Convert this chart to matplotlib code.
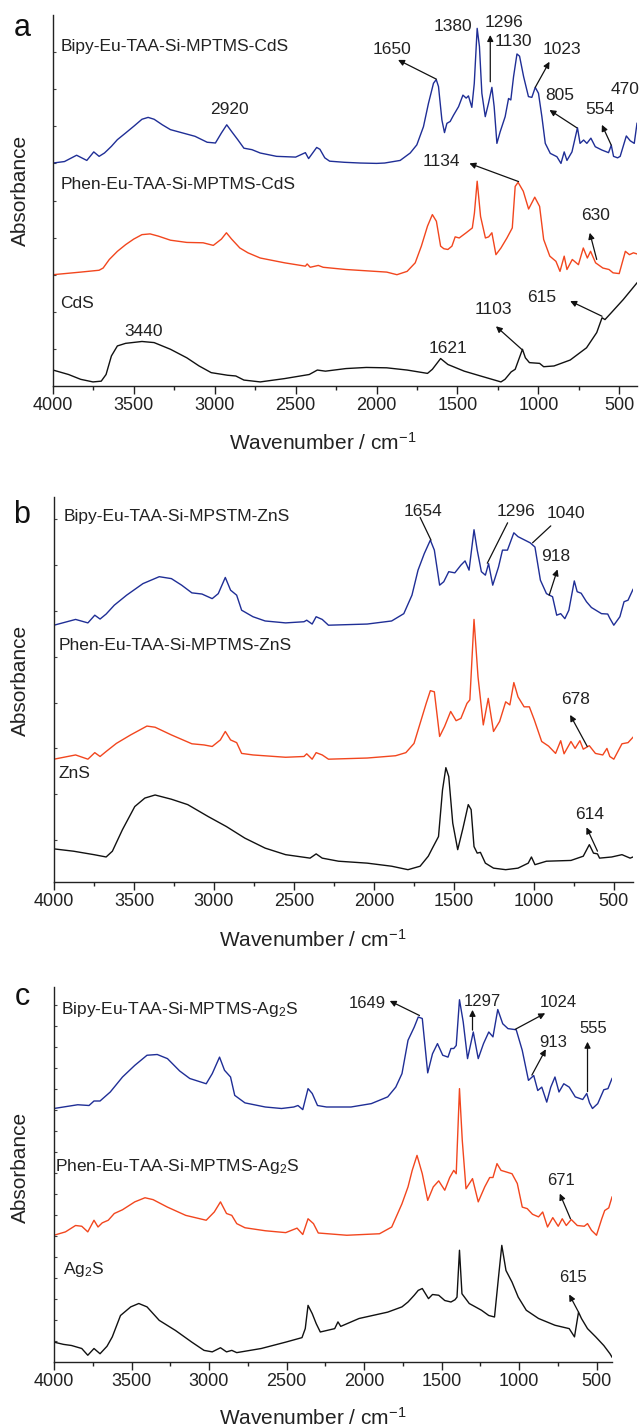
import matplotlib
matplotlib.use('Agg')
import matplotlib.pyplot as plt
import numpy as np

plt.rcParams['font.family'] = ['Liberation Sans', 'DejaVu Sans']
plt.rcParams['mathtext.default'] = 'regular'

# ---------------- data (wavenumber, absorbance in panel units) ----------------
cds_bipy = [(4000, 60.1), (3929, 60.5), (3854, 62.2), (3791, 60.8), (3748, 63.1), (3715, 61.9), (3682, 62.8),
            (3665, 63.5), (3639, 64.6), (3602, 66.4), (3551, 68.2), (3501, 70.0), (3450, 71.9), (3412, 72.4),
            (3375, 71.9), (3324, 70.4), (3274, 69.1), (3198, 68.2), (3122, 67.3), (3047, 65.7), (2996, 65.5),
            (2959, 68.2), (2926, 70.4), (2896, 68.6), (2858, 66.4), (2820, 64.1), (2770, 63.7), (2719, 62.8),
            (2618, 61.9), (2500, 61.7), (2440, 62.9), (2420, 61.3), (2370, 64.3), (2350, 63.8), (2320, 61.5),
            (2290, 60.6), (2200, 60.3), (2100, 60.1), (2000, 60.0), (1950, 60.1), (1854, 60.8), (1792, 62.8),
            (1751, 65.0), (1710, 69.9), (1679, 76.2), (1648, 81.6), (1631, 82.6), (1617, 80.7), (1596, 71.7),
            (1580, 68.3), (1565, 70.8), (1545, 71.3), (1524, 73.0), (1493, 75.3), (1466, 78.4), (1446, 77.6),
            (1432, 78.2), (1411, 75.1), (1396, 81.5), (1378, 96.4), (1364, 91.5), (1349, 78.9), (1328, 72.6),
            (1308, 76.2), (1287, 80.5), (1273, 75.3), (1256, 65.4), (1236, 68.5), (1205, 72.6), (1184, 77.5),
            (1170, 77.1), (1153, 83.4), (1132, 89.5), (1116, 88.9), (1091, 83.4), (1061, 78.0), (1040, 77.8),
            (1019, 80.5), (999, 78.9), (978, 72.6), (957, 65.4), (926, 62.7), (885, 61.8), (860, 60.0),
            (840, 63.1), (823, 60.8), (792, 63.1), (758, 69.6), (742, 65.4), (720, 66.3), (700, 65.4),
            (675, 66.8), (648, 64.5), (607, 63.6), (566, 62.9), (549, 64.9), (535, 61.9), (510, 61.5),
            (494, 61.9), (456, 67.4), (432, 66.1), (407, 65.4), (390, 70.8)]

cds_phen = [(4000, 30.0), (3829, 30.7), (3715, 31.2), (3690, 31.8), (3652, 34.1), (3602, 36.3), (3551, 38.1),
            (3501, 39.6), (3450, 40.8), (3400, 41.0), (3349, 40.4), (3274, 39.3), (3173, 38.7), (3072, 38.6),
            (3009, 37.9), (2959, 39.6), (2928, 41.3), (2896, 39.6), (2845, 37.2), (2795, 35.9), (2719, 34.5),
            (2568, 33.2), (2440, 32.3), (2429, 32.9), (2410, 32.0), (2360, 32.5), (2330, 32.0), (2189, 31.4),
            (1937, 30.7), (1874, 30.0), (1811, 30.9), (1761, 33.2), (1723, 37.7), (1685, 43.1), (1655, 46.2),
            (1630, 44.4), (1604, 37.7), (1584, 37.0), (1559, 36.8), (1534, 37.7), (1514, 40.2), (1489, 39.9),
            (1446, 41.3), (1408, 42.6), (1395, 46.6), (1378, 55.2), (1357, 45.7), (1327, 39.9), (1307, 40.2),
            (1287, 41.3), (1262, 35.4), (1231, 37.2), (1194, 39.9), (1161, 42.6), (1143, 53.8), (1125, 54.9),
            (1093, 52.5), (1060, 47.7), (1022, 50.9), (992, 48.4), (967, 39.5), (929, 35.0), (891, 33.6),
            (866, 30.9), (840, 35.0), (823, 31.4), (790, 34.1), (752, 32.7), (722, 37.2), (697, 34.5),
            (677, 36.3), (646, 33.2), (601, 31.8), (563, 31.4), (538, 30.5), (500, 30.3), (462, 36.3),
            (437, 35.4), (412, 35.9), (390, 35.6)]

cds_bare = [(4000, 4.3), (3904, 3.1), (3829, 1.8), (3753, 1.1), (3702, 1.3), (3672, 3.1), (3639, 8.1),
            (3602, 10.8), (3551, 11.5), (3450, 12.0), (3375, 11.7), (3274, 9.9), (3173, 7.6), (3097, 5.4),
            (3022, 3.6), (2921, 2.9), (2870, 2.7), (2820, 1.6), (2719, 1.1), (2568, 2.0), (2416, 3.1),
            (2366, 4.3), (2316, 4.0), (2189, 4.7), (2063, 5.0), (1937, 4.9), (1811, 4.3), (1685, 3.4),
            (1655, 4.5), (1604, 7.4), (1559, 5.8), (1458, 4.0), (1357, 2.7), (1231, 1.1), (1206, 1.8),
            (1168, 3.8), (1143, 4.5), (1098, 9.9), (1080, 7.6), (1055, 6.3), (992, 6.1), (967, 5.2),
            (903, 5.4), (803, 7.0), (702, 10.3), (639, 14.4), (606, 18.4), (588, 17.9), (550, 19.7),
            (475, 23.3), (390, 27.8)]

zns_bipy = [(4000, 66.7), (3865, 68.2), (3788, 67.3), (3745, 69.3), (3712, 68.3), (3674, 69.6), (3623, 71.9),
            (3546, 74.5), (3444, 77.5), (3342, 79.3), (3266, 78.8), (3202, 77.1), (3138, 75.1), (3075, 74.8),
            (3011, 73.6), (2973, 74.9), (2929, 79.1), (2896, 75.8), (2858, 74.5), (2827, 70.6), (2756, 68.9),
            (2680, 67.8), (2552, 67.3), (2437, 67.6), (2420, 68.0), (2386, 67.0), (2361, 68.9), (2323, 68.2),
            (2284, 66.7), (2042, 67.0), (1889, 67.8), (1813, 69.7), (1762, 74.5), (1724, 81.0), (1685, 85.3),
            (1647, 88.8), (1622, 86.2), (1589, 77.1), (1563, 78.0), (1532, 80.6), (1494, 80.3), (1456, 82.3),
            (1430, 83.4), (1405, 81.0), (1374, 91.5), (1354, 86.2), (1328, 80.6), (1303, 79.7), (1283, 82.7),
            (1257, 77.1), (1221, 81.8), (1196, 86.2), (1165, 86.2), (1125, 90.7), (1099, 89.7), (1061, 88.9),
            (1023, 88.1), (993, 87.0), (959, 78.4), (921, 74.9), (883, 74.1), (857, 69.3), (832, 69.7),
            (806, 68.4), (781, 70.6), (747, 78.2), (729, 75.4), (704, 75.0), (671, 72.8), (640, 71.3),
            (577, 69.7), (538, 69.6), (525, 68.5), (500, 66.7), (462, 68.9), (436, 72.8), (411, 73.2),
            (380, 76.0)]

zns_phen = [(4000, 31.9), (3865, 33.0), (3788, 31.9), (3745, 33.6), (3712, 32.6), (3674, 33.9), (3610, 36.0),
            (3521, 38.2), (3419, 40.5), (3368, 40.2), (3266, 38.2), (3138, 35.9), (3062, 35.6), (3011, 35.2),
            (2960, 36.9), (2929, 39.1), (2896, 36.9), (2858, 36.2), (2827, 33.4), (2756, 33.0), (2552, 32.4),
            (2437, 32.6), (2420, 33.3), (2386, 31.9), (2361, 33.6), (2323, 33.0), (2284, 31.9), (2042, 32.2),
            (1864, 32.8), (1800, 33.6), (1749, 36.0), (1711, 41.2), (1673, 46.4), (1647, 49.7), (1622, 49.4),
            (1589, 37.8), (1558, 40.4), (1520, 44.3), (1486, 41.9), (1456, 42.5), (1418, 46.4), (1400, 47.3),
            (1374, 68.2), (1349, 53.3), (1316, 40.8), (1285, 47.7), (1252, 39.1), (1214, 41.7), (1176, 46.8),
            (1150, 46.0), (1125, 51.8), (1099, 48.1), (1061, 45.5), (1028, 45.5), (997, 42.1), (951, 36.5),
            (908, 35.3), (864, 33.4), (832, 36.7), (811, 33.3), (768, 36.5), (742, 34.7), (712, 36.7),
            (691, 34.5), (653, 35.4), (615, 33.4), (569, 33.0), (543, 34.7), (525, 32.6), (500, 31.9),
            (449, 35.9), (411, 36.2), (380, 37.6)]

zns_bare = [(4000, 8.6), (3878, 8.0), (3750, 7.1), (3674, 6.5), (3635, 8.0), (3572, 13.6), (3495, 19.6),
            (3432, 21.8), (3368, 22.6), (3266, 21.5), (3164, 20.1), (3036, 17.0), (2922, 14.4), (2807, 11.4),
            (2680, 8.8), (2552, 7.1), (2399, 6.2), (2361, 7.3), (2323, 6.2), (2221, 5.4), (2042, 4.9),
            (1889, 4.1), (1787, 3.2), (1711, 4.1), (1660, 6.7), (1634, 8.8), (1596, 11.8), (1571, 23.9),
            (1550, 29.7), (1532, 27.4), (1507, 15.3), (1476, 8.4), (1443, 14.0), (1410, 20.1), (1392, 18.8),
            (1374, 9.2), (1354, 7.5), (1334, 7.7), (1303, 4.9), (1252, 3.6), (1176, 3.2), (1099, 3.6),
            (1035, 4.9), (1015, 6.5), (993, 4.5), (921, 5.4), (768, 5.6), (691, 6.7), (653, 9.7), (627, 7.5),
            (602, 7.3), (589, 6.2), (513, 6.5), (449, 7.1), (398, 6.2), (380, 6.5)]

ag2s_bipy = [(4000, 67.6), (3847, 68.6), (3774, 68.4), (3742, 69.6), (3703, 69.6), (3637, 72.0), (3558, 76.0),
             (3479, 79.1), (3400, 81.8), (3334, 82.0), (3268, 80.9), (3189, 77.6), (3124, 75.6), (3018, 74.2),
             (2979, 76.9), (2932, 81.3), (2900, 77.8), (2861, 76.0), (2834, 71.1), (2768, 69.1), (2637, 68.0),
             (2532, 67.6), (2453, 68.0), (2426, 68.4), (2395, 67.3), (2361, 72.9), (2334, 71.6), (2300, 68.4),
             (2242, 68.0), (2084, 68.0), (1953, 68.9), (1847, 70.7), (1795, 73.3), (1755, 76.9), (1716, 85.8),
             (1676, 89.3), (1650, 92.0), (1624, 91.6), (1589, 77.1), (1558, 82.2), (1526, 84.9), (1492, 81.8),
             (1458, 81.3), (1439, 83.6), (1421, 83.6), (1405, 84.4), (1384, 96.6), (1360, 90.7), (1332, 80.9),
             (1295, 88.0), (1263, 80.9), (1229, 84.9), (1195, 88.0), (1168, 86.7), (1137, 94.0), (1105, 90.2),
             (1071, 88.9), (1018, 88.6), (979, 83.1), (939, 75.1), (905, 76.4), (879, 72.4), (853, 73.3),
             (821, 69.3), (795, 73.3), (768, 76.0), (742, 72.0), (711, 74.2), (676, 73.3), (637, 70.7),
             (589, 70.0), (563, 71.6), (545, 69.1), (526, 67.6), (492, 68.9), (453, 72.6), (426, 72.9),
             (400, 75.6)]

ag2s_phen = [(4000, 33.8), (3926, 34.7), (3861, 36.4), (3821, 36.2), (3782, 34.7), (3742, 37.8), (3716, 36.0),
             (3689, 37.1), (3650, 37.8), (3611, 39.6), (3558, 40.6), (3479, 42.7), (3413, 43.8), (3361, 43.3),
             (3268, 41.3), (3150, 39.1), (3018, 37.8), (2966, 40.0), (2926, 42.7), (2887, 39.6), (2853, 39.1),
             (2821, 36.9), (2768, 35.8), (2637, 35.0), (2505, 34.5), (2432, 35.7), (2395, 34.0), (2361, 38.2),
             (2326, 36.9), (2295, 34.4), (2111, 33.8), (1900, 34.2), (1821, 36.0), (1755, 42.2), (1716, 46.7),
             (1689, 51.1), (1658, 55.1), (1624, 50.2), (1589, 43.1), (1553, 46.7), (1518, 48.3), (1479, 45.8),
             (1447, 49.2), (1421, 51.1), (1405, 50.2), (1384, 72.9), (1366, 59.1), (1342, 46.2), (1300, 48.9),
             (1263, 42.7), (1221, 46.7), (1189, 49.2), (1168, 49.2), (1142, 52.9), (1116, 51.1), (1084, 50.7),
             (1045, 50.2), (1011, 47.6), (979, 41.3), (947, 40.9), (913, 39.4), (874, 38.7), (847, 40.0),
             (816, 36.0), (782, 38.5), (747, 36.2), (721, 38.2), (695, 36.4), (663, 38.0), (624, 36.4),
             (579, 36.2), (558, 36.9), (532, 35.1), (500, 33.8), (466, 38.2), (447, 40.4), (421, 41.1),
             (400, 44.0)]

ag2s_bare = [(4000, 5.3), (3939, 4.7), (3887, 4.4), (3821, 3.6), (3782, 1.8), (3742, 3.6), (3703, 2.2),
             (3658, 4.2), (3624, 6.7), (3571, 12.4), (3505, 14.7), (3453, 15.6), (3400, 14.7), (3321, 11.1),
             (3216, 8.4), (3111, 5.3), (3032, 3.1), (2979, 2.7), (2926, 3.8), (2887, 2.7), (2853, 3.1),
             (2821, 2.5), (2663, 3.6), (2505, 5.3), (2400, 6.5), (2379, 8.9), (2361, 15.1), (2334, 12.9),
             (2308, 10.2), (2282, 8.0), (2189, 8.9), (2168, 10.7), (2150, 9.5), (2032, 11.6), (1847, 13.3),
             (1755, 14.7), (1716, 16.0), (1676, 17.8), (1650, 19.1), (1624, 19.6), (1584, 16.9), (1558, 18.0),
             (1518, 17.8), (1479, 16.4), (1439, 16.0), (1413, 16.6), (1400, 17.3), (1384, 29.8), (1368, 18.2),
             (1321, 15.6), (1242, 13.8), (1195, 12.4), (1158, 12.0), (1132, 22.7), (1111, 31.1), (1084, 24.4),
             (1045, 21.3), (1005, 17.3), (953, 13.8), (874, 11.6), (768, 9.8), (676, 8.9), (642, 6.7),
             (616, 13.3), (597, 11.6), (558, 8.9), (505, 6.7), (453, 4.4), (413, 2.2), (400, 1.3)]

tick_values = [4000, 3500, 3000, 2500, 2000, 1500, 1000, 500]

series_names_a = ['Bipy-Eu-TAA-Si-MPTMS-CdS', 'Phen-Eu-TAA-Si-MPTMS-CdS', 'CdS']
series_names_b = ['Bipy-Eu-TAA-Si-MPSTM-ZnS', 'Phen-Eu-TAA-Si-MPTMS-ZnS', 'ZnS']
series_names_c = ['Bipy-Eu-TAA-Si-MPTMS-Ag$_2$S', 'Phen-Eu-TAA-Si-MPTMS-Ag$_2$S', 'Ag$_2$S']

# ---------------- styling / layout ----------------
BLUE = '#1f2e96'
RED = '#f2461e'
BLACK = '#111111'
W, H = 639, 1427

fig = plt.figure(figsize=(W / 100, H / 100), dpi=100)


def make_axes(l, r, t, b):
    return fig.add_axes([l / W, 1 - b / H, (r - l) / W, (b - t) / H])


def style(ax, xright, yticks):
    ax.set_xlim(4000, xright)
    ax.set_ylim(0, 100)
    for s in ['top', 'right']:
        ax.spines[s].set_visible(False)
    for s in ['left', 'bottom']:
        ax.spines[s].set_linewidth(1.0)
        ax.spines[s].set_color('#222222')
    ax.set_xticks(tick_values)
    ax.set_xticklabels([str(v) for v in tick_values])
    ax.set_xticks([3750, 3250, 2750, 2250, 1750, 1250, 750], minor=True)
    ax.tick_params(axis='x', which='major', direction='out', length=6, width=1.0,
                   labelsize=13, pad=2, colors='#222222', labelcolor='#222222')
    ax.tick_params(axis='x', which='minor', direction='out', length=3, width=1.0, colors='#222222')
    ax.set_yticks(yticks)
    ax.tick_params(axis='y', which='major', direction='in', length=2.5, width=0.8,
                   labelleft=False, colors='#444444')


def plot_curve(ax, pts, color):
    x = [p[0] for p in pts]
    y = [p[1] for p in pts]
    ax.plot(x, y, color=color, lw=1.0)


def annotate(ax, items, fs):
    for txt, txy, tail, head, kind in items:
        ax.text(txy[0], txy[1], txt, ha='center', va='center', fontsize=fs, color='#222222')
        if kind == 'arrow':
            ax.annotate('', xy=head, xytext=tail,
                        arrowprops=dict(arrowstyle='-|>', color='#111111', lw=0.9,
                                        mutation_scale=9, shrinkA=0, shrinkB=0))
        elif kind == 'line':
            ax.annotate('', xy=head, xytext=tail,
                        arrowprops=dict(arrowstyle='-', color='#111111', lw=0.9,
                                        shrinkA=0, shrinkB=0))


def px(x, y):
    return x / W, 1 - y / H


# ---------- panel a ----------
axa = make_axes(53, 637, 15, 386)
style(axa, 390, np.arange(10, 100, 10))
plot_curve(axa, cds_bipy, BLUE)
plot_curve(axa, cds_phen, RED)
plot_curve(axa, cds_bare, BLACK)
for name, y in zip(series_names_a, [91.6, 54.4, 22.3]):
    axa.text(3955, y, name, ha='left', va='center', fontsize=12.5, color='#222222')
annotate(axa, [
    ('1650', (1907, 90.6), (1630, 82.7), (1867, 87.9), 'arrow'),
    ('1380', (1528, 96.9), None, None, None),
    ('1296', (1215, 97.9), (1297, 82.0), (1297, 94.6), 'arrow'),
    ('1130', (1157, 92.8), None, None, None),
    ('1023', (854, 90.7), (1019, 80.5), (931, 87.4), 'arrow'),
    ('805', (865, 78.4), (762, 69.6), (931, 74.4), 'arrow'),
    ('554', (622, 74.6), (549, 64.9), (607, 70.4), 'arrow'),
    ('470', (463, 80.0), None, None, None),
    ('2920', (2908, 74.6), None, None, None),
    ('1134', (1600, 60.5), (1122, 55.1), (1426, 60.0), 'arrow'),
    ('630', (644, 45.9), (639, 34.1), (682, 41.3), 'arrow'),
    ('3440', (3440, 14.6), None, None, None),
    ('1621', (1559, 10.2), None, None, None),
    ('1103', (1277, 20.5), (1098, 9.7), (1262, 16.1), 'arrow'),
    ('615', (979, 23.9), (606, 18.8), (803, 22.9), 'arrow'),
], 12.5)

# ---------- panel b ----------
axb = make_axes(54, 633, 497, 882)
style(axb, 380, np.arange(10.9, 100, 11.9))
plot_curve(axb, zns_bipy, BLUE)
plot_curve(axb, zns_phen, RED)
plot_curve(axb, zns_bare, BLACK)
for name, y, x0 in zip(series_names_b, [95.0, 61.5, 28.3], [3941, 3972, 3972]):
    axb.text(x0, y, name, ha='left', va='center', fontsize=12.5, color='#222222')
annotate(axb, [
    ('1654', (1694, 96.2), (1643, 88.8), (1711, 94.7), 'line'),
    ('1296', (1113, 96.2), (1291, 82.8), (1164, 93.3), 'line'),
    ('1040', (800, 95.6), (1008, 88.1), (894, 92.5), 'line'),
    ('918', (862, 84.5), (904, 74.5), (852, 81.2), 'arrow'),
    ('678', (738, 47.3), (666, 35.2), (773, 43.4), 'arrow'),
    ('614', (653, 17.5), (602, 8.0), (671, 14.2), 'arrow'),
], 12.5)

# ---------- panel c ----------
axc = make_axes(54, 612, 987, 1362)
style(axc, 400, np.arange(5.5, 100, 5.6))
plot_curve(axc, ag2s_bipy, BLUE)
plot_curve(axc, ag2s_phen, RED)
plot_curve(axc, ag2s_bare, BLACK)
for name, y, x0 in zip(series_names_c, [94.0, 52.2, 24.6], [3957, 3992, 3940]):
    axc.text(x0, y, name, ha='left', va='center', fontsize=12.5, color='#222222')
annotate(axc, [
    ('1649', (1979, 95.6), (1642, 92.4), (1834, 96.3), 'arrow'),
    ('1297', (1239, 96.1), (1300, 88.5), (1300, 93.9), 'arrow'),
    ('1024', (745, 95.8), (1025, 88.7), (831, 93.0), 'arrow'),
    ('913', (781, 85.1), (917, 76.5), (827, 83.4), 'arrow'),
    ('555', (523, 89.0), (558, 72.1), (558, 85.4), 'arrow'),
    ('671', (729, 48.4), (668, 38.2), (737, 44.9), 'arrow'),
    ('615', (650, 22.4), (616, 13.3), (676, 18.0), 'arrow'),
], 12)

# ---------- figure-level labels ----------
for letter, (x, y) in zip(['a', 'b', 'c'], [(22, 28), (22, 515), (22, 997)]):
    fig.text(*px(x, y), letter, ha='center', va='center', fontsize=22, color='#111111')
for y in [190, 680, 1167]:
    fig.text(*px(20, y), 'Absorbance', rotation=90, ha='center', va='center', fontsize=15, color='#222222')
for x, y in [(323, 443), (313, 940), (313, 1418)]:
    fig.text(*px(x, y), 'Wavenumber / cm$^{-1}$', ha='center', va='center', fontsize=15, color='#222222')

fig.savefig('out.png', dpi=100)
